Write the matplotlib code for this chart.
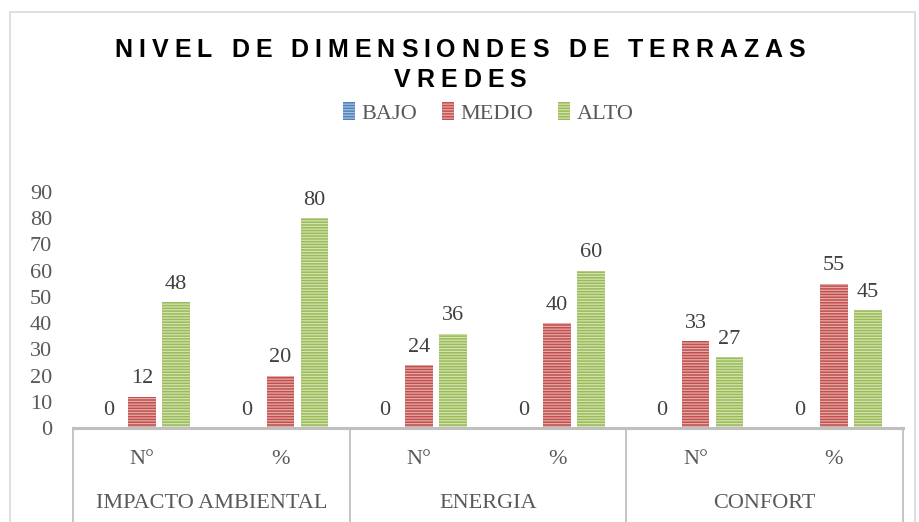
import numpy as np
import matplotlib.pyplot as plt
import matplotlib.transforms as mtransforms
from matplotlib.patches import Patch, Rectangle
from matplotlib.font_manager import FontProperties

# data
groups = ['IMPACTO AMBIENTAL', 'ENERGIA', 'CONFORT']
subcats = ['N°', '%', 'N°', '%', 'N°', '%']
series = ['BAJO', 'MEDIO', 'ALTO']
bajo = [0, 0, 0, 0, 0, 0]
medio = [12, 20, 24, 40, 33, 55]
alto = [48, 80, 36, 60, 27, 45]
yticks = [0, 10, 20, 30, 40, 50, 60, 70, 80, 90]
title_lines = ['NIVEL DE DIMENSIONDES DE TERRAZAS', 'VREDES']

colors = ['#4F81BD', '#C0504D', '#9BBB59']
stripes = ['#A9C0DE', '#E6AAA8', '#D2E2B0']

plt.rcParams['hatch.linewidth'] = 0.9
serif = 'Liberation Serif'

fig = plt.figure(figsize=(9.2, 5.22), dpi=100)
ax = fig.add_axes([73 / 920, 94 / 522, 830 / 920, 236 / 522])

x = np.arange(len(subcats))
w = 0.2
off = 0.245
for vals, dx, c, s in zip([bajo, medio, alto], [-off, 0, off], colors, stripes):
    bars = ax.bar(x + dx, vals, width=w, color=c, edgecolor=s, linewidth=0,
                  hatch='------', zorder=2)
    for b, v in zip(bars, vals):
        ax.annotate(str(v), (b.get_x() + b.get_width() / 2, v), xytext=(0, 6),
                    textcoords='offset points', ha='center', va='bottom',
                    fontsize=16, family=serif, color='#404040', clip_on=False)

ax.set_xlim(-0.5, len(subcats) - 0.5)
ax.set_ylim(0, 90)
ax.set_yticks(yticks)
ax.set_yticklabels([str(t) for t in yticks], family=serif, fontsize=16, color='#595959')
ax.tick_params(axis='y', length=0, pad=15)
ax.set_xticks([])
for sp in ax.spines.values():
    sp.set_visible(False)

# category table under the axis
trans = mtransforms.blended_transform_factory(ax.transData, ax.transAxes)
ax.plot([-0.5, len(subcats) - 0.5], [0, 0], transform=trans, color='#BFBFBF',
        lw=2.2, clip_on=False, zorder=3)
for xb in [-0.5, 1.5, 3.5, 5.5]:
    ax.plot([xb, xb], [0, -0.42], transform=trans, color='#BFBFBF', lw=1.3,
            clip_on=False)
for i, lab in enumerate(subcats):
    ax.text(i, -32 / 236, lab, transform=trans, ha='center', va='center',
            family=serif, fontsize=16, color='#595959')
for g, lab in enumerate(groups):
    ax.text(2 * g + 0.5, -75 / 236, lab, transform=trans, ha='center', va='center',
            family=serif, fontsize=16, color='#595959')

# outer chart border
fig.patches.append(Rectangle((10 / 920, -0.1), 905 / 920, 1.1 - 12 / 522,
                             transform=fig.transFigure, fill=False,
                             edgecolor='#D9D9D9', lw=1.2))

# title with wide letter spacing, one glyph at a time
renderer = fig.canvas.get_renderer()
tprop = FontProperties(family='Liberation Sans', weight='bold', size=18)
gap = 6.0  # extra px between letters
for line, ypx in zip(title_lines, [50, 80]):
    widths = [renderer.get_text_width_height_descent(ch, tprop, ismath=False)[0]
              for ch in line]
    total = sum(widths) + gap * (len(line) - 1)
    xpx = 920 / 2 - total / 2
    for ch, wd in zip(line, widths):
        fig.text(xpx / 920, 1 - ypx / 522, ch, ha='left', va='center',
                 fontproperties=tprop, color='black')
        xpx += wd + gap

handles = [Patch(facecolor=c, edgecolor=s, linewidth=0, hatch='------')
           for c, s in zip(colors, stripes)]
leg = fig.legend(handles, series, loc='center', bbox_to_anchor=(488 / 920, 1 - 113 / 522),
                 ncol=3, frameon=False, handlelength=0.55, handleheight=0.9,
                 handletextpad=0.3, columnspacing=1.1,
                 prop={'family': serif, 'size': 16})
for t in leg.get_texts():
    t.set_color('#595959')

fig.savefig('out.png', dpi=100)
